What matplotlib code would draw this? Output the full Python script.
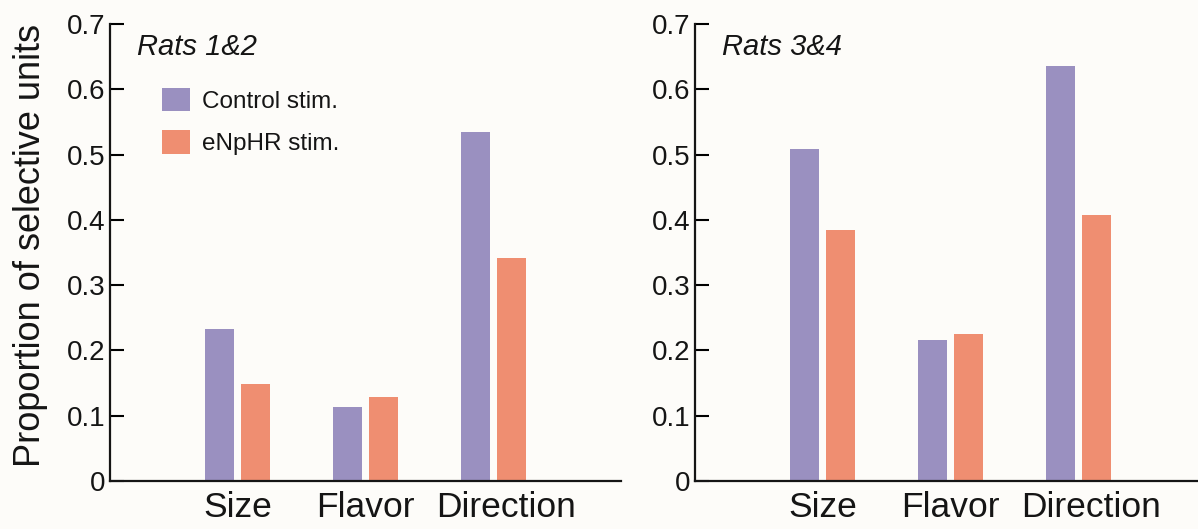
"""
Proportion of selective units, control vs eNpHR stimulation, two rat groups.
"""

import matplotlib
matplotlib.use("Agg")
import matplotlib.pyplot as plt
import matplotlib.transforms as mtransforms
from matplotlib.patches import Patch
from matplotlib.ticker import FuncFormatter, MultipleLocator


CATEGORIES = ["Size", "Flavor", "Direction"]
RATS_12_CONTROL = [0.233, 0.113, 0.535]
RATS_12_ENPHR = [0.148, 0.128, 0.342]
RATS_34_CONTROL = [0.509, 0.216, 0.635]
RATS_34_ENPHR = [0.385, 0.225, 0.407]
PANEL_TITLES = ["Rats 1&2", "Rats 3&4"]
SERIES_LABELS = ["Control stim.", "eNpHR stim."]

CONTROL_COLOR = "#9a90c0"
ENPHR_COLOR = "#ef8e71"
BG_COLOR = "#fdfcf9"
TEXT_COLOR = "#151515"

plt.rcParams["font.family"] = ["Liberation Sans", "DejaVu Sans"]


def fmt_tick(v, _pos):
	if abs(v) < 1e-9:
		return "0"
	return f"{v:.1f}"


def draw_panel(fig, ax, control, enphr, title, xmax):
	xs = range(1, len(CATEGORIES) + 1)
	ax.bar([x - 0.14 for x in xs], control, width=0.227, color=CONTROL_COLOR)
	ax.bar([x + 0.14 for x in xs], enphr, width=0.227, color=ENPHR_COLOR)

	ax.set_xlim(0, xmax)
	ax.set_ylim(0, 0.7)
	ax.set_facecolor(BG_COLOR)

	ax.set_xticks(list(xs))
	ax.set_xticklabels(CATEGORIES, fontsize=25.5, color=TEXT_COLOR)
	ax.tick_params(axis="x", length=0, pad=7)
	# the "Direction" label sits a little right of its bars in the original
	last = ax.get_xticklabels()[-1]
	last.set_transform(last.get_transform()
		+ mtransforms.ScaledTranslation(13 / 100, 0, fig.dpi_scale_trans))

	ax.yaxis.set_major_locator(MultipleLocator(0.1))
	ax.yaxis.set_major_formatter(FuncFormatter(fmt_tick))
	ax.tick_params(axis="y", direction="in", length=10, width=1.5,
		labelsize=20, pad=3, labelcolor=TEXT_COLOR)

	for side in ("top", "right"):
		ax.spines[side].set_visible(False)
	for side in ("left", "bottom"):
		ax.spines[side].set_linewidth(1.6)
		ax.spines[side].set_color(TEXT_COLOR)

	ax.text(0.053, 0.98, title, transform=ax.transAxes, fontsize=21,
		style="italic", va="top", ha="left", color=TEXT_COLOR)


def main():
	fig = plt.figure(figsize=(11.98, 5.29), dpi=100)
	fig.patch.set_facecolor(BG_COLOR)

	ax1 = fig.add_axes([110 / 1198, 48 / 529, 511 / 1198, 457 / 529])
	ax2 = fig.add_axes([695 / 1198, 48 / 529, 503 / 1198, 457 / 529])

	draw_panel(fig, ax1, RATS_12_CONTROL, RATS_12_ENPHR, PANEL_TITLES[0], 4.0)
	draw_panel(fig, ax2, RATS_34_CONTROL, RATS_34_ENPHR, PANEL_TITLES[1], 4.0 * 503 / 511)

	ax1.set_ylabel("Proportion of selective units", fontsize=26, color=TEXT_COLOR)
	ax1.yaxis.set_label_coords(-0.122, 0.515)

	handles = [
		Patch(facecolor=CONTROL_COLOR, label=SERIES_LABELS[0]),
		Patch(facecolor=ENPHR_COLOR, label=SERIES_LABELS[1]),
	]
	leg = ax1.legend(handles=handles, loc="upper left",
		bbox_to_anchor=(0.102, 0.86), frameon=False, fontsize=17.5,
		handlelength=1.15, handleheight=1.1, handletextpad=0.5,
		labelspacing=0.72, borderpad=0, borderaxespad=0)
	for t in leg.get_texts():
		t.set_color(TEXT_COLOR)

	fig.savefig("out.png", dpi=100, facecolor=BG_COLOR)
	plt.close(fig)


if __name__ == "__main__":
	main()
